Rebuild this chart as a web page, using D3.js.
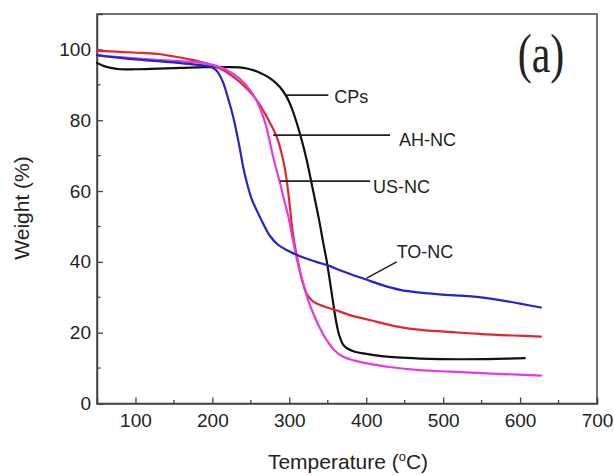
<!DOCTYPE html>
<html>
<head>
<meta charset="utf-8">
<script src="https://cdn.jsdelivr.net/npm/d3@7/dist/d3.min.js"></script>
<style>
  body { margin: 0; background: #fff; }
  text { font-family: "Liberation Sans", Arial, sans-serif; fill: #222; }
</style>
</head>
<body>
<svg id="chart" width="614" height="475"></svg>
<script>
// TGA curves: [temperature (°C), weight (%)]
const cps = [
  [50, 96.2], [60, 95.2], [70, 94.7], [80, 94.4], [100, 94.4], [130, 94.6], [160, 94.8],
  [190, 95.0], [220, 95.0], [235, 94.9], [245, 94.6], [255, 94.0], [263, 93.3], [271, 92.4],
  [279, 91.2], [288, 89.3], [296.6, 86.6], [303, 83.5], [309.6, 79.3], [316, 74.5],
  [322.6, 68.8], [328, 63.2], [333.4, 57.5], [339, 51.5], [344, 45.5], [349, 39.8],
  [353, 34.2], [357, 28.4], [361, 23.0], [365, 19.2], [370, 16.6], [375, 15.6], [385, 14.6],
  [400, 14.0], [420, 13.4], [440, 13.0], [470, 12.7], [520, 12.5], [570, 12.6], [606, 12.8]
];
const ahNC = [
  [50, 99.6], [80, 99.3], [110, 99.0], [130, 98.7], [150, 98.0], [170, 97.2], [190, 96.2],
  [210, 94.6], [227, 92.3], [242, 89.5], [257.6, 85.7], [270.6, 81.0], [283.6, 75.3],
  [292, 68.8], [296, 64.0], [300, 57.0], [305, 47.5], [311.7, 39.6], [317, 34.5],
  [322.6, 31.0], [330, 29.0], [340, 27.8], [360, 26.4], [380, 24.9], [406, 23.5], [430, 22.2],
  [454, 21.2], [480, 20.6], [502, 20.3], [550, 19.6], [590, 19.2], [627, 18.9]
];
const usNC = [
  [50, 98.3], [80, 97.8], [110, 97.3], [140, 96.9], [170, 96.5], [195, 95.9], [218.6, 94.2],
  [235, 91.8], [249, 88.5], [258, 85.3], [266, 81.0], [272, 76.5], [277, 71.6], [282, 67.0],
  [288, 62.2], [293, 57.7], [298.7, 52.8], [303, 48.0], [307.4, 43.3], [312, 38.8],
  [318.2, 33.9], [324, 29.5], [331, 25.5], [340, 21.2], [348.6, 17.9], [358, 15.2],
  [370, 13.2], [385, 12.1], [400, 11.4], [430, 10.3], [470, 9.4], [510, 9.0], [550, 8.6],
  [590, 8.2], [627, 7.9]
];
const toNC = [
  [50, 98.4], [80, 97.6], [110, 97.0], [140, 96.5], [170, 95.9], [190, 95.4], [200, 94.9],
  [207, 93.6], [214, 90.6], [220, 86.5], [227, 81.0], [232, 76.0], [236, 71.6], [240, 66.8],
  [245, 62.2], [251, 57.8], [258, 54.4], [266, 50.8], [275, 47.3], [285, 44.9], [297, 43.3],
  [314, 41.6], [335, 40.0], [350, 39.0], [365, 37.7], [380, 36.5], [400, 35.0], [420, 33.5],
  [444, 32.1], [470, 31.3], [509, 30.6], [540, 30.2], [574, 29.2], [600, 28.2], [627, 27.1]
];

const seriesNames = ["CPs", "AH-NC", "US-NC", "TO-NC"];
const seriesData = [cps, ahNC, usNC, toNC];
const seriesColors = ["#111111", "#e3262b", "#e33be3", "#2424c8"];

// Leader lines: curve point [T, W] -> end point [T, W], then label start [T, W]
const leaderFrom = [[296.6, 87.1], [279, 75.8], [288, 62.8], [400.6, 35.4]];
const leaderTo   = [[350.7, 87.1], [431, 75.8], [405, 62.8], [439.6, 40.0]];
const labelAt    = [[358.5, 84.9], [442.6, 72.6], [408.8, 59.5], [439.6, 41.1]];

const xTicks = [100, 200, 300, 400, 500, 600, 700];
const xMinor = [150, 250, 350, 450, 550, 650];
const yTicks = [0, 20, 40, 60, 80, 100];
const yMinor = [10, 30, 50, 70, 90];

const svg = d3.select("#chart");
const x = d3.scaleLinear().domain([50, 700]).range([97, 597]);
const y = d3.scaleLinear().domain([0, 110]).range([403.5, 14]);

// frame
svg.append("rect")
  .attr("x", x(50)).attr("y", y(110))
  .attr("width", x(700) - x(50)).attr("height", y(0) - y(110))
  .attr("fill", "none").attr("stroke", "#444").attr("stroke-width", 1.5);

// axes with inward ticks
const xAxis = svg.append("g").attr("transform", `translate(0,${y(0)})`)
  .call(d3.axisBottom(x).tickValues(xTicks).tickSize(-6).tickPadding(10)
    .tickFormat(d3.format("d")));
xAxis.append("g").selectAll("line").data(xMinor).join("line")
  .attr("x1", d => x(d)).attr("x2", d => x(d)).attr("y1", 0).attr("y2", -3.5);

const yAxis = svg.append("g").attr("transform", `translate(${x(50)},0)`)
  .call(d3.axisLeft(y).tickValues(yTicks).tickSize(-6).tickPadding(6)
    .tickFormat(d3.format("d")));
yAxis.append("g").selectAll("line").data(yMinor).join("line")
  .attr("x1", 0).attr("x2", 3.5).attr("y1", d => y(d)).attr("y2", d => y(d));

[xAxis, yAxis].forEach(g => {
  g.select(".domain").attr("stroke", "#444").attr("stroke-width", 1.5);
  g.selectAll("line").attr("stroke", "#444").attr("stroke-width", 1.3);
  g.selectAll("text").attr("font-size", 19).attr("fill", "#222")
    .attr("font-family", "Liberation Sans, Arial, sans-serif");
});

// curves
const line = d3.line().x(d => x(d[0])).y(d => y(d[1])).curve(d3.curveCatmullRom.alpha(0.5));
svg.append("g").selectAll("path").data(seriesData).join("path")
  .attr("d", line)
  .attr("fill", "none")
  .attr("stroke", (d, i) => seriesColors[i])
  .attr("stroke-width", 2.2)
  .attr("stroke-linejoin", "round")
  .attr("stroke-linecap", "round");

// leader lines and labels
const ann = svg.append("g");
ann.selectAll("line").data(seriesNames).join("line")
  .attr("x1", (d, i) => x(leaderFrom[i][0])).attr("y1", (d, i) => y(leaderFrom[i][1]))
  .attr("x2", (d, i) => x(leaderTo[i][0])).attr("y2", (d, i) => y(leaderTo[i][1]))
  .attr("stroke", "#222").attr("stroke-width", 1.6);
ann.selectAll("text").data(seriesNames).join("text")
  .attr("x", (d, i) => x(labelAt[i][0])).attr("y", (d, i) => y(labelAt[i][1]))
  .attr("font-size", 18)
  .text(d => d);

// panel tag
svg.append("text")
  .attr("transform", "translate(541,72) scale(1,1.3)")
  .attr("text-anchor", "middle")
  .style("font-family", "'Liberation Serif', 'Times New Roman', serif")
  .attr("font-size", 42)
  .text("(a)");

// axis titles
const xt = svg.append("text")
  .attr("x", 348).attr("y", 469)
  .attr("text-anchor", "middle")
  .attr("font-size", 21);
xt.append("tspan").text("Temperature (");
xt.append("tspan").attr("font-size", 13).attr("dy", -8).text("o");
xt.append("tspan").attr("dy", 8).text("C)");

svg.append("text")
  .attr("transform", "translate(29,208) rotate(-90)")
  .attr("text-anchor", "middle")
  .attr("font-size", 21)
  .text("Weight (%)");
</script>
</body>
</html>
